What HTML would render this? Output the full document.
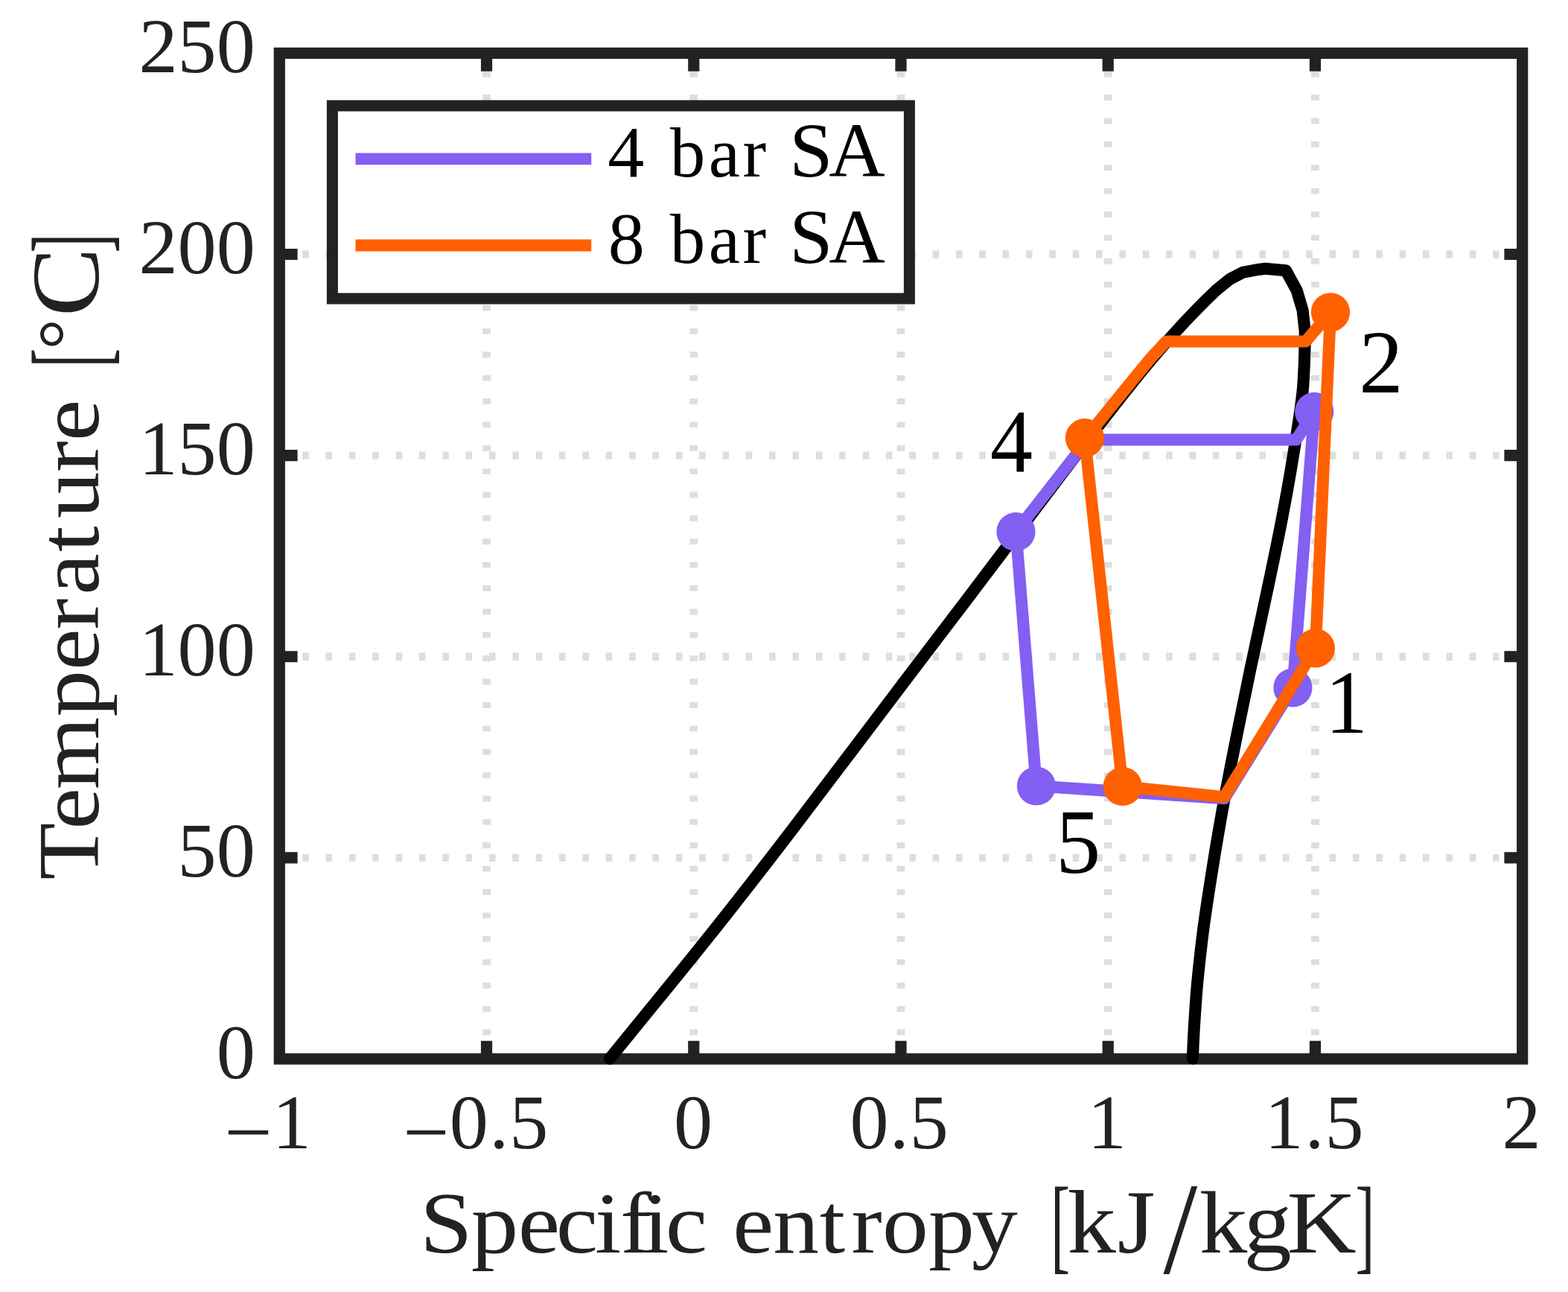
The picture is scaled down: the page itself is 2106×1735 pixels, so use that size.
<!DOCTYPE html>
<html lang="en"><head><meta charset="utf-8"><title>T-s diagram</title>
<style>html,body{margin:0;padding:0;background:#fff}body{width:2106px;height:1735px;overflow:hidden}svg{display:block}text{font-family:'Liberation Serif', serif;white-space:pre}</style></head><body>
<svg width="2106" height="1735" viewBox="0 0 2106 1735">
<rect width="2106" height="1735" fill="#fff"/>
<g stroke="#dedede" stroke-width="10.8" fill="none">
<path d="M653.53 1421.6 V71.4" stroke-dasharray="7.9 23.48"/>
<path d="M931.77 1421.6 V71.4" stroke-dasharray="7.9 23.48"/>
<path d="M1210 1421.6 V71.4" stroke-dasharray="7.9 23.48"/>
<path d="M1488.23 1421.6 V71.4" stroke-dasharray="7.9 23.48"/>
<path d="M1766.47 1421.6 V71.4" stroke-dasharray="7.9 23.48"/>
</g>
<g stroke="#dedede" stroke-width="10.4" fill="none">
<path d="M374.8 1151.88 H2044.7" stroke-dasharray="8.6 22.75"/>
<path d="M374.8 881.76 H2044.7" stroke-dasharray="8.6 22.75"/>
<path d="M374.8 611.64 H2044.7" stroke-dasharray="8.6 22.75"/>
<path d="M374.8 341.52 H2044.7" stroke-dasharray="8.6 22.75"/>
</g>
<g stroke="#222222" stroke-width="15.2" fill="none">
<rect x="375.3" y="71.4" width="1669.4" height="1350.6"/>
<path d="M653.53 1422 v-24.3 M653.53 71.4 v24.3 M931.77 1422 v-24.3 M931.77 71.4 v24.3 M1210 1422 v-24.3 M1210 71.4 v24.3 M1488.23 1422 v-24.3 M1488.23 71.4 v24.3 M1766.47 1422 v-24.3 M1766.47 71.4 v24.3 M375.3 1151.88 h24.3 M2044.7 1151.88 h-24.3 M375.3 881.76 h24.3 M2044.7 881.76 h-24.3 M375.3 611.64 h24.3 M2044.7 611.64 h-24.3 M375.3 341.52 h24.3 M2044.7 341.52 h-24.3"/>
</g>
<path d="M818.75 1421.8 C846.29 1387.66 874.52 1353.52 902.31 1319.38 C930.1 1285.24 957.5 1251.1 984.36 1216.96 C1011.22 1182.81 1037.58 1148.67 1063.67 1114.53 C1089.76 1080.39 1115.61 1046.25 1141.45 1012.11 C1167.3 977.97 1193.15 943.83 1219.06 909.69 C1244.98 875.55 1270.95 841.41 1296.89 807.27 C1322.83 773.13 1348.7 738.99 1374.49 704.84 C1400.28 670.7 1425.93 636.56 1451.91 602.42 C1477.89 568.28 1504.14 534.14 1532.21 500 C1545.92 483.33 1560.09 466.67 1575.04 450 C1584.02 440 1593.28 430 1602.93 420 C1612.58 410 1622.61 400 1633.14 390 L1652.3 374.6 L1669.1 365.8 L1690 361.9 L1699.4 360.7 L1727 363.2 L1741.8 390.2 L1749.6 416.8 L1752.7 444.4 C1752.7 452.93 1752.55 461.47 1752.4 470 C1752.12 485.83 1751.35 501.67 1750.3 517.5 C1749.88 523.83 1749.06 530.17 1748.3 536.5 C1745.81 557.33 1742.3 578.17 1739 599 C1735.78 619.33 1732.33 639.67 1728.7 660 C1726.32 673.33 1723.8 686.67 1721.2 700 C1716 726.67 1710.38 753.33 1704.8 780 C1696.43 820 1687.47 860 1679.1 900 C1673.52 926.67 1668.01 953.33 1662.7 980 C1654.74 1020 1646.7 1060 1639.6 1100 C1634.87 1126.67 1630.43 1153.33 1626.3 1180 C1622.17 1206.67 1617.9 1233.33 1614.7 1260 C1611.5 1286.67 1608.44 1313.33 1606.5 1340 C1604.52 1367.17 1602.8 1394.33 1601.9 1421.5" fill="none" stroke="#000" stroke-width="16.1" stroke-linejoin="round" stroke-linecap="round"/>
<path d="M1765.2 552.8 L1741.2 590.4 L1461 590.4 L1364.5 714 L1391.9 1055.5 L1644.5 1072.2 L1736.4 923.5 L1765.2 552.8" fill="none" stroke="#835ff2" stroke-width="16" stroke-linejoin="round" stroke-linecap="butt"/>
<circle cx="1765.2" cy="552.8" r="26.1" fill="#835ff2"/>
<circle cx="1364.5" cy="714" r="26.1" fill="#835ff2"/>
<circle cx="1391.9" cy="1055.5" r="26.1" fill="#835ff2"/>
<circle cx="1736.4" cy="923.5" r="26.1" fill="#835ff2"/>
<path d="M1787 419.3 L1753.6 458.6 L1566.5 458.6 L1546.9 479.4 L1529.4 500.6 L1511.4 522.6 L1492.8 545.5 L1475.1 567.4 L1456.9 588.1 L1507.8 1056 L1644.2 1070.3 L1766.9 870.4 L1787 419.3" fill="none" stroke="#ff6000" stroke-width="16" stroke-linejoin="round" stroke-linecap="butt"/>
<circle cx="1787" cy="419.3" r="26.1" fill="#ff6000"/>
<circle cx="1456.9" cy="588.1" r="26.1" fill="#ff6000"/>
<circle cx="1507.8" cy="1056" r="26.1" fill="#ff6000"/>
<circle cx="1766.9" cy="870.4" r="26.1" fill="#ff6000"/>
<text transform="translate(0 527) scale(0.9803 1)" x="1861.9" y="0" font-size="121.13" fill="#000">2</text>
<text transform="translate(0 633.2) scale(0.9458 1)" x="1406.24" y="0" font-size="120.33" fill="#000">4</text>
<text transform="translate(0 983.5) scale(0.9471 1)" x="1879.31" y="0" font-size="119.97" fill="#000">1</text>
<text transform="translate(0 1171.8) scale(0.9801 1)" x="1446.72" y="0" font-size="123.09" fill="#000">5</text>
<rect x="446.4" y="142" width="775" height="259" fill="#fff" stroke="#222222" stroke-width="15"/>
<path d="M477.5 213.4 H794.2" stroke="#835ff2" stroke-width="15.8" fill="none"/>
<path d="M477.5 329.5 H794.2" stroke="#ff6000" stroke-width="15.8" fill="none"/>
<text transform="translate(0 237.3)" x="816.21 865.21 899.76 951.7 997.6 1029.23 1060.23 1113.32" y="0 0 0 0 0 0 0 0" font-size="98.5" fill="#000"><tspan font-size="98">4</tspan> <tspan font-size="95">bar</tspan> <tspan font-size="104.7">SA</tspan></text>
<text transform="translate(0 352.8)" x="816.8 865.8 899.76 951.7 997.6 1029.23 1060.23 1113.32" y="0 0 0 0 0 0 0 0" font-size="98.5" fill="#000"><tspan font-size="98">8</tspan> <tspan font-size="95">bar</tspan> <tspan font-size="104.7">SA</tspan></text>
<text transform="translate(0 96.9)" x="186.47 238.57 290.67" y="0 0 0" font-size="104.2" fill="#222222">250</text>
<text transform="translate(0 367.02)" x="186.47 238.57 290.67" y="0 0 0" font-size="104.2" fill="#222222">200</text>
<text transform="translate(0 637.14)" x="186.47 238.57 290.67" y="0 0 0" font-size="104.2" fill="#222222">150</text>
<text transform="translate(0 907.26)" x="186.47 238.57 290.67" y="0 0 0" font-size="104.2" fill="#222222">100</text>
<text transform="translate(0 1177.38)" x="238.57 290.67" y="0 0" font-size="104.2" fill="#222222">50</text>
<text transform="translate(0 1447.5)" x="290.67" y="0" font-size="104.2" fill="#222222">0</text>
<text transform="translate(0 1541.8)" x="301.3 365.64" y="15.93 0" font-size="104.2" fill="#222222"><tspan x="301.3" y="15.93" font-size="112.44" textLength="64.6" lengthAdjust="spacingAndGlyphs">−</tspan>1</text>
<text transform="translate(0 1541.8)" x="541.21 603.83 657.13 684.15" y="15.93 0 0 0" font-size="104.2" fill="#222222"><tspan x="541.21" y="15.93" font-size="112.44" textLength="62.17" lengthAdjust="spacingAndGlyphs">−</tspan>0.5</text>
<text transform="translate(0 1541.8)" x="905.03" y="0" font-size="104.2" fill="#222222">0</text>
<text transform="translate(0 1541.8)" x="1141.43 1194.73 1221.75" y="0 0 0" font-size="104.2" fill="#222222">0.5</text>
<text transform="translate(0 1541.8)" x="1460.74" y="0" font-size="104.2" fill="#222222">1</text>
<text transform="translate(0 1541.8)" x="1698.44 1752.53 1779.55" y="0 0 0" font-size="104.2" fill="#222222">1.5</text>
<text transform="translate(0 1541.8)" x="2017.42" y="0" font-size="104.2" fill="#222222">2</text>
<text transform="translate(0 1682) scale(1.08 1)" x="522.32 585.95 644.31 691.55 739.77 771.36 799.26 827.57 879.72 911.28 961.39 1019.15 1058.9 1097.25 1154.59 1208.31 1265.56 1306.7 1327.21 1389.56 1446.67 1491.35 1546.52 1600.56 1685.66" y="0 0 0 0 0 0 0 0 0 0 0 0 0 0 0 0 0 10.09 0 0 27.18 0 0 0 10.09" font-size="117" fill="#222222"><tspan font-size="117.5">Specific</tspan> <tspan font-size="114.5">entropy</tspan> <tspan x="1306.7" y="10.09" font-size="142.82" textLength="23.96" lengthAdjust="spacingAndGlyphs">[</tspan><tspan font-size="121">kJ</tspan><tspan x="1446.67" y="27.18" font-size="175.95" textLength="42.31" lengthAdjust="spacingAndGlyphs">/</tspan><tspan font-size="119.5">kgK</tspan><tspan x="1685.66" y="10.09" font-size="142.82" textLength="23.82" lengthAdjust="spacingAndGlyphs">]</tspan></text>
<text transform="translate(132.1 0) rotate(-90) scale(1.08 1)" x="-1093.94 -1031.32 -981.81 -891.19 -833.41 -782.93 -739.86 -686.29 -644.75 -587.14 -548.36 -496.87 -456.88 -434.76 -393.47 -314.44" y="0 0 0 0 0 0 0 0 0 0 0 0 8.99 -10.25 0 8.99" font-size="117" fill="#222222"><tspan font-size="116">Temperature</tspan> <tspan x="-456.88" y="8.99" font-size="142.09" textLength="23.82" lengthAdjust="spacingAndGlyphs">[</tspan><tspan x="-434.76" y="-10.25" font-size="101.58" textLength="38.22" lengthAdjust="spacingAndGlyphs">°</tspan><tspan font-size="128.5">C</tspan><tspan x="-314.44" y="8.99" font-size="142.09" textLength="23.82" lengthAdjust="spacingAndGlyphs">]</tspan></text>
</svg></body></html>
